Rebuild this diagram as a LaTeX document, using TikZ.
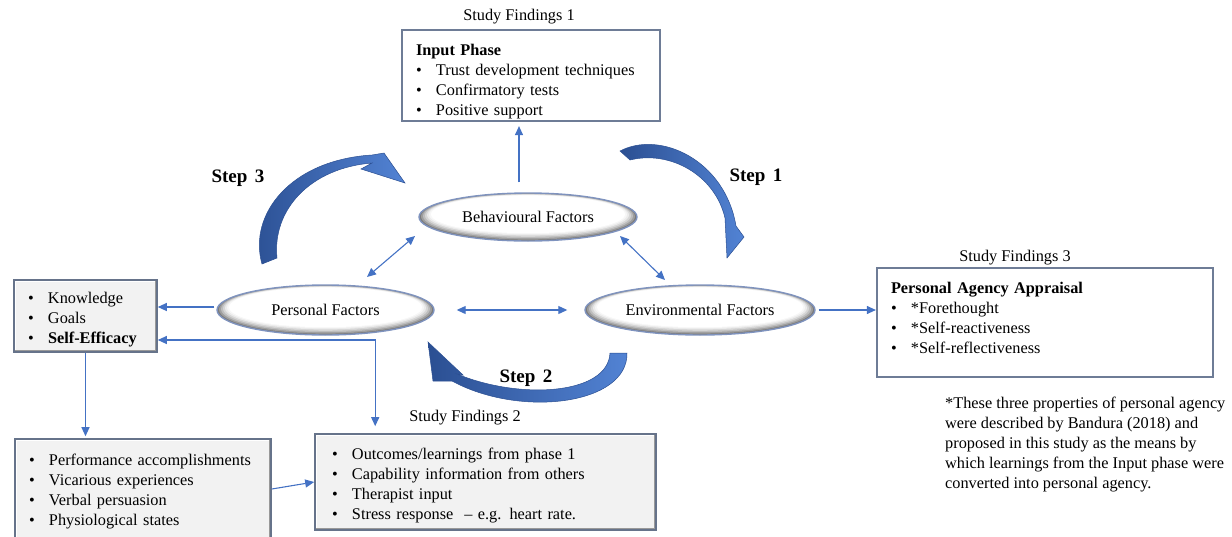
\documentclass[tikz,border=0pt]{standalone}
\usepackage{fontspec}
\setmainfont{Liberation Serif}
\usetikzlibrary{arrows.meta,shapes.geometric,calc}
\definecolor{connblue}{HTML}{4472C4}
\definecolor{boxline}{HTML}{6E7C96}
\definecolor{greyline}{HTML}{66738A}
\definecolor{stepdark}{HTML}{2B4F92}
\definecolor{steplight}{HTML}{5283D4}
\definecolor{ellline}{HTML}{7F93BE}
\newcommand{\itm}[1]{\makebox[20pt][l]{\textbullet}#1}
\newcommand{\topgap}[1]{\rule{0pt}{#1}}
\begin{document}
\begin{tikzpicture}[x=1pt,y=-1pt,
  every node/.style={font=\fontsize{16.3}{20}\selectfont},
  ellnode/.style n args={2}{ellipse, draw=ellline, line width=1.4pt, inner sep=0pt,
    minimum width=2*#1, minimum height=2*#2,
    path picture={
      \foreach \dx/\dy/\c/\sh in {0/0/52/0, 2/0.9/38/0.5, 4/1.8/26/1, 6/2.7/16/1.5, 8/3.6/8/2, 10/4.4/3/2.4, 12/5.1/0/2.7} {
        \fill[black!\c] ([yshift=\sh pt]path picture bounding box.center) ellipse [x radius={#1pt-\dx pt}, y radius={#2pt-\dy pt}];
      }
    }},
  whitebox/.style={rectangle, draw=boxline, line width=2.2pt, fill=white, align=left, inner ysep=0pt},
  greybox/.style={rectangle, draw=greyline, line width=1.6pt, fill=black!5, align=left, inner ysep=0pt,
    path picture={
      \draw[white, line width=3pt] (path picture bounding box.south west) -- (path picture bounding box.north west) -- (path picture bounding box.north east);
      \draw[black!40, line width=5pt] (path picture bounding box.south west) -- (path picture bounding box.south east) -- (path picture bounding box.north east);
    }},
  conn/.style={draw=connblue, line width=1.1pt, -{Triangle[length=9pt,width=8pt]}},
  conn2/.style={draw=connblue, line width=1.1pt, {Triangle[length=9pt,width=8pt]}-{Triangle[length=9pt,width=8pt]}},
  steparrow/.style={left color=stepdark, right color=steplight, draw=stepdark, line width=0.5pt},
  steplabel/.style={font=\bfseries\fontsize{19}{22}\selectfont},
  caption/.style={inner sep=0pt}
]
\useasboundingbox (0,0) rectangle (1232,536);

% curved step arrows
\shade[steparrow] (262,264) .. controls (248,215) and (290,160) .. (372,155) -- (384,153) -- (405,183) -- (361,169) -- (372,163) .. controls (310,168) and (272,210) .. (277,258) -- cycle;
\shade[steparrow] (620,151) .. controls (660,130) and (725,160) .. (736,226) -- (744,237) -- (727,258) -- (725,218) .. controls (715,175) and (670,150) .. (630,160) -- cycle;
\shade[steparrow] (627,353) .. controls (628,405) and (520,418) .. (452,381) -- (433,381) -- (428,342) -- (463,375) -- (457,374) .. controls (520,400) and (608,395) .. (610,353) -- cycle;

\node[steplabel] (s3) at (238,178) {Step\hspace{0.4em}3};
\node[steplabel] (s1) at (756,177) {Step\hspace{0.4em}1};
\node[steplabel] (s2) at (526,378) {Step\hspace{0.4em}2};

% factor ellipses
\node[ellnode={109}{24}] (beh) at (528,217) {Behavioural Factors};
\node[ellnode={108.5}{25}] (pers) at (325.5,310) {Personal Factors};
\node[ellnode={115}{25}] (env) at (700,310) {Environmental Factors};

% boxes
\node[caption] (sf1lab) at (519,17) {Study Findings 1};
\node[whitebox, minimum width=258, minimum height=91, text width=230, inner xsep=14pt] (sf1) at (531,75.5)
  {\topgap{23pt}\textbf{Input Phase}\\ \itm{Trust development techniques}\\ \itm{Confirmatory tests}\\ \itm{Positive support}};

\node[greybox, minimum width=143, minimum height=72, text width=115, inner xsep=14pt] (kbox) at (85.5,316)
  {\topgap{18pt}\itm{Knowledge}\\ \itm{Goals}\\ \itm{\textbf{Self-Efficacy}}};

\node[greybox, minimum width=256, minimum height=100, text width=228, inner xsep=14pt] (pbox) at (143,489)
  {\topgap{17pt}\itm{Performance accomplishments}\\ \itm{Vicarious experiences}\\ \itm{Verbal persuasion}\\ \itm{Physiological states}};

\node[caption] (sf2lab) at (465,418) {Study Findings 2};
\node[greybox, minimum width=341, minimum height=96, text width=307, inner xsep=17pt] (sf2) at (485.5,482)
  {\topgap{19pt}\itm{Outcomes/learnings from phase 1}\\ \itm{Capability information from others}\\ \itm{Therapist input}\\ \itm{Stress response \ -- e.g. heart rate.}};

\node[caption] (sf3lab) at (1015,258) {Study Findings 3};
\node[whitebox, minimum width=336, minimum height=109, text width=308, inner xsep=14pt] (sf3) at (1045,322.5)
  {\textbf{Personal Agency Appraisal}\\ \itm{*Forethought}\\ \itm{*Self-reactiveness}\\ \itm{*Self-reflectiveness}\rule[-10pt]{0pt}{0pt}};

\node[anchor=north west, inner sep=0pt, align=left] (note) at (945,397)
  {*These three properties of personal agency\\ were described by Bandura (2018) and\\ proposed in this study as the means by\\ which learnings from the Input phase were\\ converted into personal agency.};

% connectors
\coordinate (bstart) at ([shift={(-9,-10)}]beh.north);
\draw[conn, shorten >=4pt] (bstart) -- (bstart |- sf1.south);
\draw[conn2] ($(pers.center)+(41.5,-33)$) -- ($(beh.center)+(-113,19)$);
\draw[conn2] ($(beh.center)+(92,19)$) -- ($(env.center)+(-35,-30)$);
\draw[conn2] ([xshift=22pt]pers.east) -- ([xshift=-17pt]env.west);
\coordinate (pstart) at ([shift={(-2,-3)}]pers.west);
\draw[conn] (pstart) -- (pstart -| kbox.east);
\draw[conn] ([xshift=3pt]env.east) -- (env.east -| sf3.west);
\draw[conn2] ([yshift=-24pt]kbox.east) -| ($(sf2.north west)+(61,-7)$);
\draw[conn, shorten >=2pt] (kbox.south) -- (kbox.south |- pbox.north);
\draw[conn] (pbox.east) -- (sf2.west);
\end{tikzpicture}
\end{document}
